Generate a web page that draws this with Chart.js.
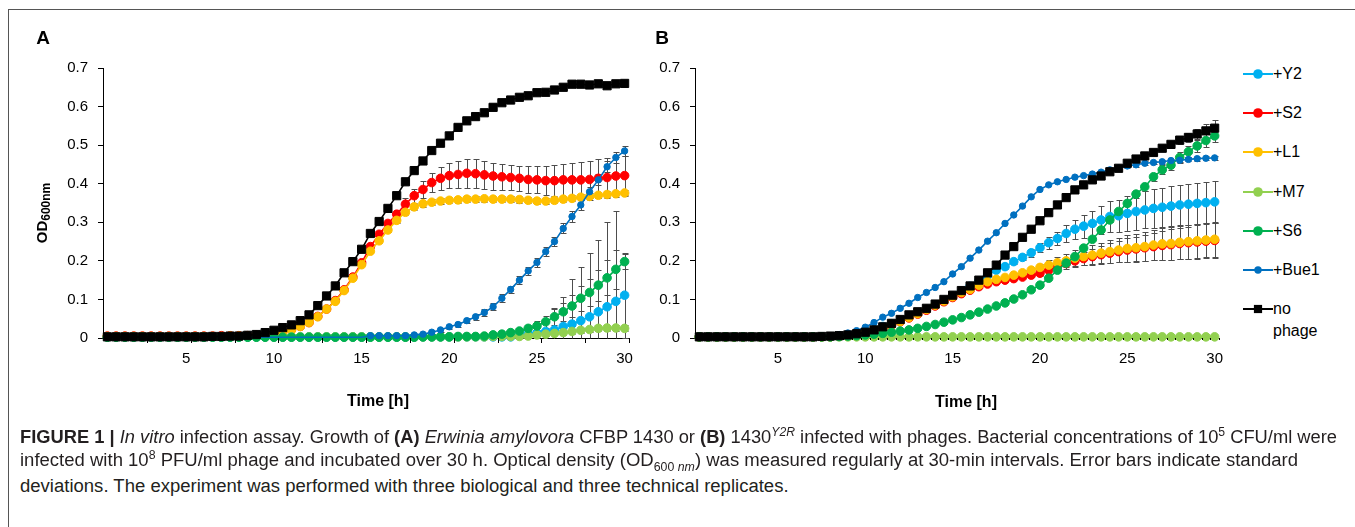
<!DOCTYPE html>
<html>
<head>
<meta charset="utf-8">
<script src="https://cdn.jsdelivr.net/npm/chart.js@4.4.1/dist/chart.umd.min.js"></script>
<style>
  html, body { margin: 0; padding: 0; background: #fff; }
  body { width: 1355px; height: 527px; position: relative; overflow: hidden;
         font-family: "Liberation Sans", Arial, sans-serif; color: #000; }
  #frame { position: absolute; left: 8px; top: 9px; width: 1400px; height: 600px;
           border-left: 1px solid #555; border-top: 1px solid #555; }
  canvas { position: absolute; }
  .lbl { position: absolute; transform: translate(-50%, -50%); white-space: nowrap; font-weight: bold; }
  .panel { font-size: 19px; }
  .xtitle { font-size: 16px; }
  .ytitle { font-size: 15px; transform: translate(-50%, -50%) rotate(-90deg); }
  .ytitle sub { font-size: 12px; vertical-align: -3px; }
  .leg { position: absolute; left: 1243px; height: 20px; display: flex; align-items: center; font-size: 16px; }
  .cap { position: absolute; left: 20px; white-space: nowrap; color: #231f20;
         font-family: "Liberation Sans", Arial, sans-serif; font-size: 18px;
         transform-origin: 0 50%; }
  .cap sup, .cap sub { font-size: 12px; }
</style>
</head>
<body>
<div id="frame"></div>
<canvas id="chartA" width="660" height="390" style="left:0;top:40px;width:660px;height:390px"></canvas>
<canvas id="chartB" width="640" height="390" style="left:600px;top:40px;width:640px;height:390px"></canvas>

<div class="lbl panel" style="left:43px;top:38px">A</div>
<div class="lbl panel" style="left:662px;top:38px">B</div>
<div class="lbl ytitle" style="left:43px;top:213px">OD<sub>600nm</sub></div>
<div class="lbl xtitle" style="left:378px;top:401px">Time [h]</div>
<div class="lbl xtitle" style="left:966px;top:402px">Time [h]</div>
<div id="legend"></div>

<div class="cap" style="top:436px" data-w="1317"><b>FIGURE 1 |</b> <i>In vitro</i> infection assay. Growth of <b>(A)</b> <i>Erwinia amylovora</i> CFBP 1430 or <b>(B)</b> 1430<sup><i>Y2R</i></sup> infected with phages. Bacterial concentrations of 10<sup>5</sup> CFU/ml were</div>
<div class="cap" style="top:461px" data-w="1278">infected with 10<sup>8</sup> PFU/ml phage and incubated over 30 h. Optical density (OD<sub>600 <i>nm</i></sub>) was measured regularly at 30-min intervals. Error bars indicate standard</div>
<div class="cap" style="top:486px">deviations. The experiment was performed with three biological and three technical replicates.</div>

<script>
const FONT = "'Liberation Sans', Arial, sans-serif";

// time points (h), one every 30 min
const hours = [0.5,1,1.5,2,2.5,3,3.5,4,4.5,5, 5.5,6,6.5,7,7.5,8,8.5,9,9.5,10,
  10.5,11,11.5,12,12.5,13,13.5,14,14.5,15, 15.5,16,16.5,17,17.5,18,18.5,19,19.5,20,
  20.5,21,21.5,22,22.5,23,23.5,24,24.5,25, 25.5,26,26.5,27,27.5,28,28.5,29,29.5,30];
const xTickLabels = [5, 10, 15, 20, 25, 30];
const yTicks = [0, 0.1, 0.2, 0.3, 0.4, 0.5, 0.6, 0.7];
const seriesNames = ['+Y2', '+S2', '+L1', '+M7', '+S6', '+Bue1', 'no phage'];

// ---- panel A : CFBP 1430 ----
const A_Y2 = [0.003,0.003,0.003,0.003,0.003,0.003,0.003,0.003,0.003,0.003,
  0.003,0.003,0.003,0.003,0.003,0.003,0.003,0.003,0.003,0.003,
  0.003,0.003,0.003,0.003,0.003,0.003,0.003,0.003,0.003,0.003,
  0.003,0.003,0.003,0.003,0.003,0.003,0.003,0.003,0.003,0.003,
  0.003,0.003,0.003,0.003,0.003,0.003,0.003,0.007,0.010,0.013,
  0.017,0.021,0.030,0.036,0.045,0.055,0.068,0.081,0.095,0.111];
const A_S2 = [0.005,0.005,0.005,0.005,0.005,0.005,0.005,0.005,0.005,0.005,
  0.005,0.005,0.005,0.006,0.006,0.006,0.006,0.007,0.009,0.012,
  0.016,0.022,0.030,0.040,0.056,0.075,0.097,0.125,0.158,0.195,
  0.237,0.269,0.297,0.321,0.347,0.369,0.385,0.403,0.414,0.421,
  0.424,0.427,0.426,0.423,0.420,0.418,0.416,0.414,0.411,0.410,
  0.408,0.408,0.410,0.410,0.410,0.411,0.414,0.416,0.420,0.421];
const A_L1 = [0.004,0.004,0.004,0.004,0.004,0.004,0.004,0.004,0.004,0.004,
  0.004,0.004,0.004,0.004,0.005,0.005,0.005,0.006,0.008,0.011,
  0.015,0.021,0.030,0.040,0.055,0.075,0.095,0.123,0.155,0.190,
  0.225,0.252,0.280,0.305,0.326,0.340,0.348,0.352,0.355,0.357,
  0.358,0.360,0.360,0.361,0.360,0.360,0.360,0.359,0.357,0.355,
  0.355,0.357,0.360,0.362,0.365,0.367,0.370,0.372,0.374,0.376];
const A_M7 = [0.003,0.003,0.003,0.003,0.003,0.003,0.003,0.003,0.003,0.003,
  0.003,0.003,0.003,0.003,0.003,0.003,0.003,0.003,0.003,0.003,
  0.003,0.003,0.003,0.003,0.003,0.003,0.003,0.003,0.003,0.003,
  0.003,0.003,0.003,0.003,0.003,0.003,0.003,0.003,0.003,0.003,
  0.003,0.003,0.003,0.003,0.004,0.004,0.004,0.004,0.005,0.008,
  0.010,0.012,0.014,0.017,0.020,0.022,0.025,0.026,0.026,0.025];
const A_S6 = [0.002,0.002,0.002,0.002,0.002,0.002,0.002,0.002,0.002,0.002,
  0.002,0.002,0.002,0.002,0.002,0.002,0.002,0.002,0.002,0.002,
  0.002,0.002,0.002,0.002,0.002,0.002,0.002,0.002,0.002,0.002,
  0.002,0.002,0.002,0.002,0.002,0.002,0.003,0.003,0.003,0.003,
  0.004,0.004,0.004,0.005,0.008,0.010,0.014,0.018,0.025,0.031,
  0.042,0.055,0.068,0.083,0.103,0.118,0.137,0.156,0.178,0.198];
const A_Bue1 = [0.002,0.002,0.002,0.002,0.002,0.002,0.002,0.002,0.002,0.002,
  0.002,0.002,0.002,0.002,0.002,0.002,0.002,0.002,0.002,0.002,
  0.002,0.002,0.002,0.002,0.002,0.002,0.002,0.002,0.002,0.002,
  0.006,0.006,0.006,0.006,0.006,0.008,0.010,0.015,0.021,0.029,
  0.035,0.045,0.055,0.066,0.081,0.103,0.126,0.150,0.174,0.196,
  0.224,0.250,0.284,0.315,0.345,0.379,0.410,0.444,0.468,0.485];
const A_noPhage = [0.003,0.003,0.003,0.003,0.003,0.003,0.003,0.003,0.003,0.003,
  0.003,0.003,0.004,0.004,0.005,0.005,0.007,0.009,0.014,0.020,
  0.027,0.034,0.045,0.060,0.084,0.109,0.135,0.169,0.198,0.230,
  0.271,0.302,0.336,0.369,0.405,0.434,0.459,0.486,0.505,0.524,
  0.546,0.563,0.574,0.584,0.598,0.610,0.617,0.624,0.628,0.636,
  0.637,0.643,0.650,0.658,0.658,0.656,0.659,0.654,0.659,0.660];

// standard deviations, panel A
const A_Y2_sd = [0,0,0,0,0,0,0,0,0,0, 0,0,0,0,0,0,0,0,0,0, 0,0,0,0,0,0,0,0,0,0,
  0,0,0,0,0,0,0,0,0,0,
  0,0,0,0,0,0,0,0.005,0.010,0.020,
  0.033,0.056,0.077,0.117,0.140,0.165,0.185,0.220,0.235,0.110];
const A_S2_sd = [0,0,0,0,0,0,0,0,0,0, 0,0,0,0,0,0,0,0,0,0,
  0,0,0,0,0,0,0,0,0,0.005,
  0.006,0.008,0.010,0.012,0.015,0.018,0.022,0.025,0.030,0.033,
  0.035,0.037,0.037,0.036,0.035,0.034,0.033,0.033,0.034,0.035,
  0.037,0.040,0.042,0.044,0.046,0.048,0.050,0.050,0.050,0.050];
const A_L1_sd = [0,0,0,0,0,0,0,0,0,0, 0,0,0,0,0,0,0,0,0,0, 0,0,0,0,0,0,0,0,0,0,
  0.004,0.005,0.006,0.006,0.007,0.007,0.008,0.008,0.008,0.008,
  0.008,0.008,0.008,0.008,0.008,0.008,0.008,0.008,0.008,0.008,
  0.008,0.008,0.008,0.008,0.008,0.008,0.008,0.008,0.008,0.008];
const A_M7_sd = [0,0,0,0,0,0,0,0,0,0, 0,0,0,0,0,0,0,0,0,0, 0,0,0,0,0,0,0,0,0,0,
  0,0,0,0,0,0,0,0,0,0,
  0,0,0,0,0,0,0,0,0.003,0.004,
  0.005,0.005,0.006,0.006,0.007,0.007,0.008,0.008,0.008,0.008];
const A_S6_sd = [0,0,0,0,0,0,0,0,0,0, 0,0,0,0,0,0,0,0,0,0, 0,0,0,0,0,0,0,0,0,0,
  0,0,0,0,0,0,0,0,0,0,
  0,0,0,0,0.003,0.004,0.006,0.008,0.010,0.013,
  0.016,0.020,0.024,0.028,0.032,0.036,0.040,0.045,0.050,0.020];
const A_Bue1_sd = [0,0,0,0,0,0,0,0,0,0, 0,0,0,0,0,0,0,0,0,0, 0,0,0,0,0,0,0,0,0,0,
  0,0,0,0,0,0.002,0.003,0.004,0.005,0.006,
  0.006,0.007,0.008,0.008,0.009,0.010,0.010,0.011,0.011,0.012,
  0.012,0.012,0.013,0.013,0.013,0.013,0.014,0.014,0.014,0.014];

// ---- panel B : 1430 Y2R ----
const B_Y2 = [0.003,0.003,0.003,0.003,0.003,0.003,0.003,0.003,0.003,0.003,
  0.003,0.003,0.003,0.003,0.003,0.003,0.005,0.007,0.011,0.016,
  0.022,0.030,0.037,0.045,0.054,0.064,0.074,0.085,0.096,0.108,
  0.120,0.134,0.148,0.162,0.176,0.185,0.198,0.209,0.221,0.234,
  0.247,0.258,0.271,0.282,0.290,0.297,0.306,0.315,0.317,0.323,
  0.328,0.332,0.336,0.339,0.342,0.345,0.347,0.349,0.351,0.353];
const B_S2 = [0.003,0.003,0.003,0.003,0.003,0.003,0.003,0.003,0.003,0.003,
  0.003,0.003,0.003,0.003,0.003,0.003,0.005,0.007,0.010,0.014,
  0.019,0.025,0.033,0.042,0.052,0.062,0.072,0.083,0.094,0.105,
  0.115,0.124,0.133,0.140,0.146,0.150,0.154,0.158,0.163,0.168,
  0.176,0.185,0.193,0.200,0.206,0.211,0.216,0.220,0.224,0.228,
  0.231,0.234,0.237,0.240,0.242,0.245,0.247,0.249,0.251,0.253];
const B_L1 = [0.003,0.003,0.003,0.003,0.003,0.003,0.003,0.003,0.003,0.003,
  0.003,0.003,0.003,0.003,0.003,0.003,0.005,0.007,0.011,0.015,
  0.020,0.026,0.034,0.043,0.053,0.063,0.074,0.085,0.096,0.107,
  0.118,0.126,0.137,0.146,0.152,0.157,0.163,0.169,0.176,0.183,
  0.189,0.195,0.200,0.207,0.211,0.215,0.220,0.224,0.228,0.232,
  0.234,0.237,0.241,0.244,0.245,0.248,0.250,0.252,0.254,0.256];
const B_M7 = [0.003,0.003,0.003,0.003,0.003,0.003,0.003,0.003,0.003,0.003,
  0.003,0.003,0.003,0.003,0.003,0.003,0.003,0.003,0.003,0.003,
  0.003,0.003,0.003,0.003,0.003,0.003,0.003,0.003,0.003,0.003,
  0.003,0.003,0.003,0.003,0.003,0.003,0.003,0.003,0.003,0.003,
  0.003,0.003,0.003,0.003,0.003,0.003,0.003,0.003,0.003,0.003,
  0.003,0.003,0.003,0.003,0.003,0.003,0.003,0.003,0.003,0.003];
const B_S6 = [0.003,0.003,0.003,0.003,0.003,0.003,0.003,0.003,0.003,0.003,
  0.003,0.003,0.003,0.003,0.003,0.003,0.004,0.005,0.006,0.008,
  0.010,0.012,0.015,0.018,0.021,0.025,0.030,0.035,0.041,0.047,
  0.053,0.060,0.067,0.075,0.083,0.091,0.101,0.112,0.125,0.137,
  0.155,0.176,0.194,0.211,0.233,0.256,0.280,0.306,0.328,0.349,
  0.373,0.392,0.418,0.436,0.448,0.468,0.483,0.498,0.512,0.524];
const B_Bue1 = [0.003,0.003,0.003,0.003,0.003,0.003,0.003,0.003,0.003,0.003,
  0.003,0.003,0.003,0.003,0.004,0.006,0.009,0.013,0.019,0.028,
  0.040,0.054,0.064,0.077,0.090,0.105,0.118,0.131,0.146,0.166,
  0.185,0.207,0.228,0.251,0.273,0.297,0.319,0.342,0.366,0.385,
  0.397,0.405,0.411,0.417,0.421,0.425,0.430,0.436,0.441,0.446,
  0.449,0.453,0.455,0.457,0.460,0.461,0.463,0.465,0.466,0.467];
const B_noPhage = [0.003,0.003,0.003,0.003,0.003,0.003,0.003,0.003,0.003,0.003,
  0.003,0.003,0.003,0.003,0.004,0.005,0.006,0.008,0.011,0.015,
  0.021,0.029,0.038,0.048,0.060,0.068,0.077,0.088,0.100,0.111,
  0.123,0.135,0.150,0.169,0.189,0.215,0.237,0.261,0.282,0.304,
  0.325,0.345,0.364,0.384,0.397,0.410,0.420,0.431,0.440,0.453,
  0.464,0.472,0.481,0.492,0.502,0.513,0.520,0.529,0.537,0.544];

// standard deviations, panel B
const B_Y2_sd = [0,0,0,0,0,0,0,0,0,0, 0,0,0,0,0,0,0,0,0,0, 0,0,0,0,0,0,0,0,0,0,
  0,0,0,0,0.004,0.005,0.006,0.008,0.010,0.012,
  0.015,0.018,0.022,0.025,0.030,0.033,0.036,0.040,0.042,0.045,
  0.047,0.048,0.050,0.050,0.051,0.052,0.053,0.053,0.054,0.054];
const B_S2_sd = [0,0,0,0,0,0,0,0,0,0, 0,0,0,0,0,0,0,0,0,0, 0,0,0,0,0,0,0,0,0,0,
  0,0,0,0,0,0,0,0,0.006,0.008,
  0.010,0.012,0.014,0.016,0.018,0.020,0.022,0.025,0.027,0.030,
  0.032,0.034,0.036,0.038,0.040,0.041,0.042,0.043,0.044,0.045];
const B_L1_sd = [0,0,0,0,0,0,0,0,0,0, 0,0,0,0,0,0,0,0,0,0, 0,0,0,0,0,0,0,0,0,0,
  0,0,0,0,0.004,0.005,0.006,0.007,0.008,0.010,
  0.012,0.015,0.017,0.020,0.022,0.025,0.027,0.030,0.032,0.035,
  0.036,0.038,0.040,0.041,0.042,0.043,0.044,0.044,0.045,0.045];
const B_S6_sd = [0,0,0,0,0,0,0,0,0,0, 0,0,0,0,0,0,0,0,0,0, 0,0,0,0,0,0,0,0,0,0,
  0,0,0,0,0,0,0,0,0,0,
  0,0,0,0,0,0,0.005,0.006,0.007,0.008,
  0.009,0.010,0.011,0.012,0.013,0.014,0.015,0.015,0.016,0.016];
const B_Bue1_sd = [0,0,0,0,0,0,0,0,0,0, 0,0,0,0,0,0,0,0,0,0, 0,0,0,0,0,0,0,0,0,0,
  0,0,0,0,0,0,0,0,0,0,
  0,0,0,0,0,0,0.004,0.004,0.004,0.005,
  0.005,0.005,0.005,0.005,0.005,0.005,0.005,0.005,0.005,0.005];
const B_noPhage_sd = [0,0,0,0,0,0,0,0,0,0, 0,0,0,0,0,0,0,0,0,0, 0,0,0,0,0,0,0,0,0,0,
  0,0,0,0,0,0,0,0,0,0,
  0,0,0,0,0,0,0,0,0,0,
  0.005,0.006,0.007,0.008,0.009,0.010,0.012,0.014,0.017,0.022];

// styling (kept apart from the data)
const colors = ['#00B0F0', '#FF0000', '#FFC000', '#92D050', '#00B050', '#0070C0', '#000000'];
const markerStyles = ['circle', 'circle', 'circle', 'circle', 'circle', 'circle', 'rect'];
const markerRadii = [4.3, 4.3, 4.3, 4.3, 4.3, 3.2, 5.8];

// error bars drawn from the sd arrays through the chart scales
const errorBarPlugin = {
  id: 'errorBars',
  beforeDatasetsDraw(chart) {
    const ctx = chart.ctx, xs = chart.scales.x, ys = chart.scales.y;
    ctx.save();
    ctx.strokeStyle = '#4d4d4d';
    ctx.lineWidth = 1;
    chart.data.datasets.forEach(ds => {
      if (!ds.sd) return;
      ds.data.forEach((p, i) => {
        const e = ds.sd[i];
        if (!e) return;
        const px = Math.round(xs.getPixelForValue(p.x)) + 0.5;
        const top = Math.round(ys.getPixelForValue(p.y + e)) + 0.5;
        const low = Math.max(ys.min, p.y - e);
        const bot = Math.round(ys.getPixelForValue(low)) + 0.5;
        ctx.beginPath();
        ctx.moveTo(px, top); ctx.lineTo(px, bot);
        ctx.moveTo(px - 3, top); ctx.lineTo(px + 3, top);
        if (p.y - e > ys.min) { ctx.moveTo(px - 3, bot); ctx.lineTo(px + 3, bot); }
        ctx.stroke();
      });
    });
    ctx.restore();
  }
};

// small tick marks between categories, like the spreadsheet axis
const catTickPlugin = {
  id: 'catTicks',
  afterDraw(chart, args, opts) {
    const xs = chart.scales.x, ctx = chart.ctx;
    ctx.save();
    ctx.strokeStyle = '#000';
    ctx.lineWidth = 1;
    for (let v = xs.min + opts.every; v <= xs.max + 1e-6; v += opts.every) {
      const px = Math.round(xs.getPixelForValue(v)) + 0.5;
      ctx.beginPath();
      ctx.moveTo(px, xs.top);
      ctx.lineTo(px, xs.top + opts.len);
      ctx.stroke();
    }
    ctx.restore();
  }
};

// markerFrom: per series, first hour at which markers are shown (line is always drawn)
function buildChart(id, vals, sds, orders, markerFrom, yWidth, padRight, catEvery, catLen) {
  return new Chart(document.getElementById(id), {
    type: 'line',
    data: {
      datasets: seriesNames.map((name, i) => ({
        label: name,
        data: hours.map((h, j) => ({ x: h, y: vals[i][j] })),
        sd: sds[i],
        order: orders[i],
        borderColor: colors[i],
        backgroundColor: colors[i],
        borderWidth: 1.6,
        pointStyle: markerStyles[i],
        pointRadius: hours.map(h => (h < markerFrom[i] ? 0 : markerRadii[i])),
        pointBorderWidth: 1,
        tension: 0,
        clip: false
      }))
    },
    options: {
      responsive: false,
      animation: false,
      devicePixelRatio: 1,
      events: [],
      layout: { padding: { left: 0, right: padRight, top: 28, bottom: 12 } },
      plugins: {
        legend: { display: false },
        tooltip: { enabled: false },
        catTicks: { every: catEvery, len: catLen }
      },
      scales: {
        x: {
          type: 'linear', min: 0.25, max: 30.25,
          afterFit: s => { s.height = 80; },
          afterBuildTicks: s => { s.ticks = xTickLabels.map(v => ({ value: v })); },
          grid: { display: false, drawTicks: false },
          border: { display: true, color: '#000', width: 1 },
          ticks: { padding: 12, color: '#000', font: { family: FONT, size: 15 }, maxRotation: 0, autoSkip: false }
        },
        y: {
          min: 0, max: 0.7,
          afterFit: s => { s.width = yWidth; },
          afterBuildTicks: s => { s.ticks = yTicks.map(v => ({ value: v })); },
          grid: { display: true, drawOnChartArea: false, drawTicks: true, tickLength: 5, color: '#000' },
          border: { display: true, color: '#000', width: 1 },
          ticks: { padding: 10, color: '#000', font: { family: FONT, size: 15 },
                   callback: v => (v === 0 ? '0' : v.toFixed(1)) }
        }
      }
    },
    plugins: [errorBarPlugin, catTickPlugin]
  });
}

buildChart('chartA',
  [A_Y2, A_S2, A_L1, A_M7, A_S6, A_Bue1, A_noPhage],
  [A_Y2_sd, A_S2_sd, A_L1_sd, A_M7_sd, A_S6_sd, A_Bue1_sd, null],
  [6, 5, 4, 3, 2, 1, 0],
  [0, 0, 0, 0, 0, 15.5, 0],
  103, 31, 2.5, 5);

buildChart('chartB',
  [B_Y2, B_S2, B_L1, B_M7, B_S6, B_Bue1, B_noPhage],
  [B_Y2_sd, B_S2_sd, B_L1_sd, null, B_S6_sd, B_Bue1_sd, B_noPhage_sd],
  [6, 5, 4, 3, 2, 1, 0],
  [0, 0, 0, 0, 0, 0, 0],
  95, 21, 0.5, 2);

// legend for panel B
const legendTops = [74, 113, 152, 192, 231, 270, 309];
const legend = document.getElementById('legend');
seriesNames.forEach((name, i) => {
  const div = document.createElement('div');
  div.className = 'leg';
  div.style.top = (legendTops[i] - 10) + 'px';
  const r = markerRadii[i];
  const mark = markerStyles[i] === 'rect'
    ? `<rect x="${15 - r * 0.707}" y="${10 - r * 0.707}" width="${r * 1.414}" height="${r * 1.414}" fill="${colors[i]}"/>`
    : `<circle cx="15" cy="10" r="${r + 0.5}" fill="${colors[i]}"/>`;
  const label = name === 'no phage'
    ? '<span style="position:relative">no<span style="position:absolute;left:0;top:22px">phage</span></span>'
    : name;
  div.innerHTML = `<svg width="30" height="20"><line x1="0" y1="10" x2="30" y2="10" stroke="${colors[i]}" stroke-width="2"/>${mark}</svg>${label}`;
  legend.appendChild(div);
});

// squeeze caption lines to the widths used in the figure
const caps = document.querySelectorAll('.cap');
let lastScale = 1;
caps.forEach(el => {
  const w = el.getBoundingClientRect().width;
  const target = el.dataset.w ? +el.dataset.w : w * lastScale;
  lastScale = target / w;
  el.style.transform = `translateY(-50%) scaleX(${lastScale})`;
});
</script>
</body>
</html>
